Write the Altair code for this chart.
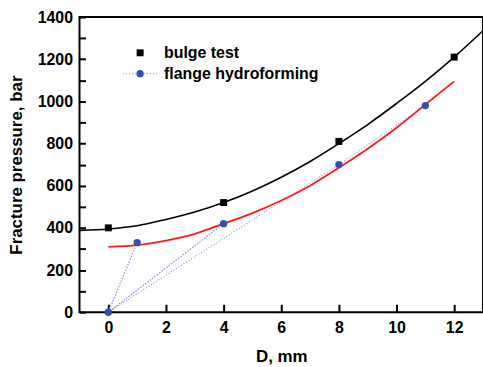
import altair as alt
import pandas as pd

# ---- data ----
bulge_D = [0, 4, 8, 12]
bulge_P = [400, 520, 810, 1210]
flange_D = [0, 1, 4, 8, 11]
flange_P = [0, 330, 420, 700, 980]
# order in which the dotted flange series is joined
path_D = [0, 1, 0, 4, 0, 8, 11]
path_P = [0, 330, 0, 420, 0, 700, 980]
# fitted curves
fitb_D = [-1, 0, 1, 2, 3, 4, 5, 6, 7, 8, 9, 10, 11, 12, 13]
fitb_P = [388, 395, 410, 440, 475, 520, 575, 640, 715, 800, 890, 990, 1095, 1210, 1335]
fitf_D = [0, 1, 2, 3, 4, 5, 6, 7, 8, 9, 10, 11, 12]
fitf_P = [310, 318, 340, 372, 420, 470, 530, 600, 685, 775, 875, 985, 1095]
x_ticks = [0, 2, 4, 6, 8, 10, 12]
y_major = [0, 200, 400, 600, 800, 1000, 1200, 1400]
y_all = [0, 100, 200, 300, 400, 500, 600, 700, 800, 900, 1000, 1100, 1200, 1300, 1400]
legend_labels = ["bulge test", "flange hydroforming"]

FONT = "Liberation Sans"
W, H = 406, 297
BLUE = "#3350b0"
DOT = "#7f8fd0"

bulge = pd.DataFrame({"D": bulge_D, "P": bulge_P})
flange = pd.DataFrame({"D": flange_D, "P": flange_P})
path = pd.DataFrame({"D": path_D, "P": path_P, "o": list(range(len(path_D)))})
fitb = pd.DataFrame({"D": fitb_D, "P": fitb_P})
fitf = pd.DataFrame({"D": fitf_D, "P": fitf_P})

xscale = alt.Scale(domain=[-1, 13], nice=False, zero=False)
yscale = alt.Scale(domain=[0, 1400], nice=False)
xaxis = alt.Axis(orient="bottom", title="D, mm", values=x_ticks, ticks=False, domain=False,
                 grid=False, labelFont=FONT, labelFontSize=16, labelFontWeight="bold",
                 labelColor="black", labelPadding=7, titleFont=FONT, titleFontSize=17,
                 titleFontWeight="bold", titleColor="black", titlePadding=14)
yaxis = alt.Axis(orient="left", title="Fracture pressure, bar", values=y_major, format="d",
                 ticks=False, domain=False, grid=False, labelFont=FONT, labelFontSize=16,
                 labelFontWeight="bold", labelColor="black", labelPadding=7, titleFont=FONT,
                 titleFontSize=17, titleFontWeight="bold", titleColor="black", titlePadding=12)

# tick-only axes moved onto the bottom / left edges so their ticks point inward
xtickaxis = alt.Axis(orient="top", offset=-H, values=x_ticks, labels=False, domain=False,
                     grid=False, title=None, ticks=True, tickSize=8, tickWidth=2,
                     tickColor="black")
ytickaxis = alt.Axis(orient="right", offset=-W, values=y_all, labels=False, domain=False,
                     grid=False, title=None, ticks=True, tickSize=6, tickWidth=2,
                     tickColor="black")

X = alt.X("D:Q", scale=xscale, axis=xaxis)
Y = alt.Y("P:Q", scale=yscale, axis=yaxis)

fit_black = alt.Chart(fitb).mark_line(color="black", strokeWidth=1.6, interpolate="monotone").encode(x=X, y=Y)
fit_red = alt.Chart(fitf).mark_line(color="#ff1a1a", strokeWidth=1.8, interpolate="monotone").encode(x=X, y=Y)
dotted = alt.Chart(path).mark_line(color=DOT, strokeWidth=1.1, strokeDash=[1, 2]).encode(
    x=X, y=Y, order="o:Q")
pts_b = alt.Chart(bulge).mark_square(color="black", size=49, opacity=1).encode(x=X, y=Y)
pts_f = alt.Chart(flange).mark_circle(color=BLUE, size=55, opacity=1).encode(x=X, y=Y)

one = pd.DataFrame({"a": [0]})
leg_sq = alt.Chart(one).mark_square(color="black", size=49, opacity=1).encode(
    x=alt.value(61), y=alt.value(36))
leg_line = alt.Chart(one).mark_rule(color=DOT, strokeWidth=1.1, strokeDash=[1, 2]).encode(
    x=alt.value(44), x2=alt.value(78), y=alt.value(57))
leg_ci = alt.Chart(one).mark_circle(color=BLUE, size=55, opacity=1).encode(
    x=alt.value(61), y=alt.value(57))
leg_t1 = alt.Chart(one).mark_text(font=FONT, fontSize=16, fontWeight="bold", align="left",
                                  baseline="middle", color="black").encode(
    x=alt.value(85), y=alt.value(36), text=alt.value(legend_labels[0]))
leg_t2 = alt.Chart(one).mark_text(font=FONT, fontSize=16, fontWeight="bold", align="left",
                                  baseline="middle", color="black").encode(
    x=alt.value(85), y=alt.value(57), text=alt.value(legend_labels[1]))

main = alt.layer(dotted, fit_black, fit_red, pts_b, pts_f,
                 leg_line, leg_sq, leg_ci, leg_t1, leg_t2)

tick_layer = alt.Chart(bulge).mark_point(opacity=0, size=1).encode(
    x=alt.X("D:Q", scale=xscale, axis=xtickaxis),
    y=alt.Y("P:Q", scale=yscale, axis=ytickaxis),
)

chart = alt.layer(main, tick_layer).resolve_axis(
    x="independent", y="independent"
).properties(
    width=W, height=H,
    autosize=alt.AutoSizeParams(type="none"),
    padding={"left": 80, "top": 16, "right": 0, "bottom": 54},
    background="white",
).configure_view(stroke="black", strokeWidth=2)

chart.save("out.html", embed_options={"renderer": "svg", "actions": False})
